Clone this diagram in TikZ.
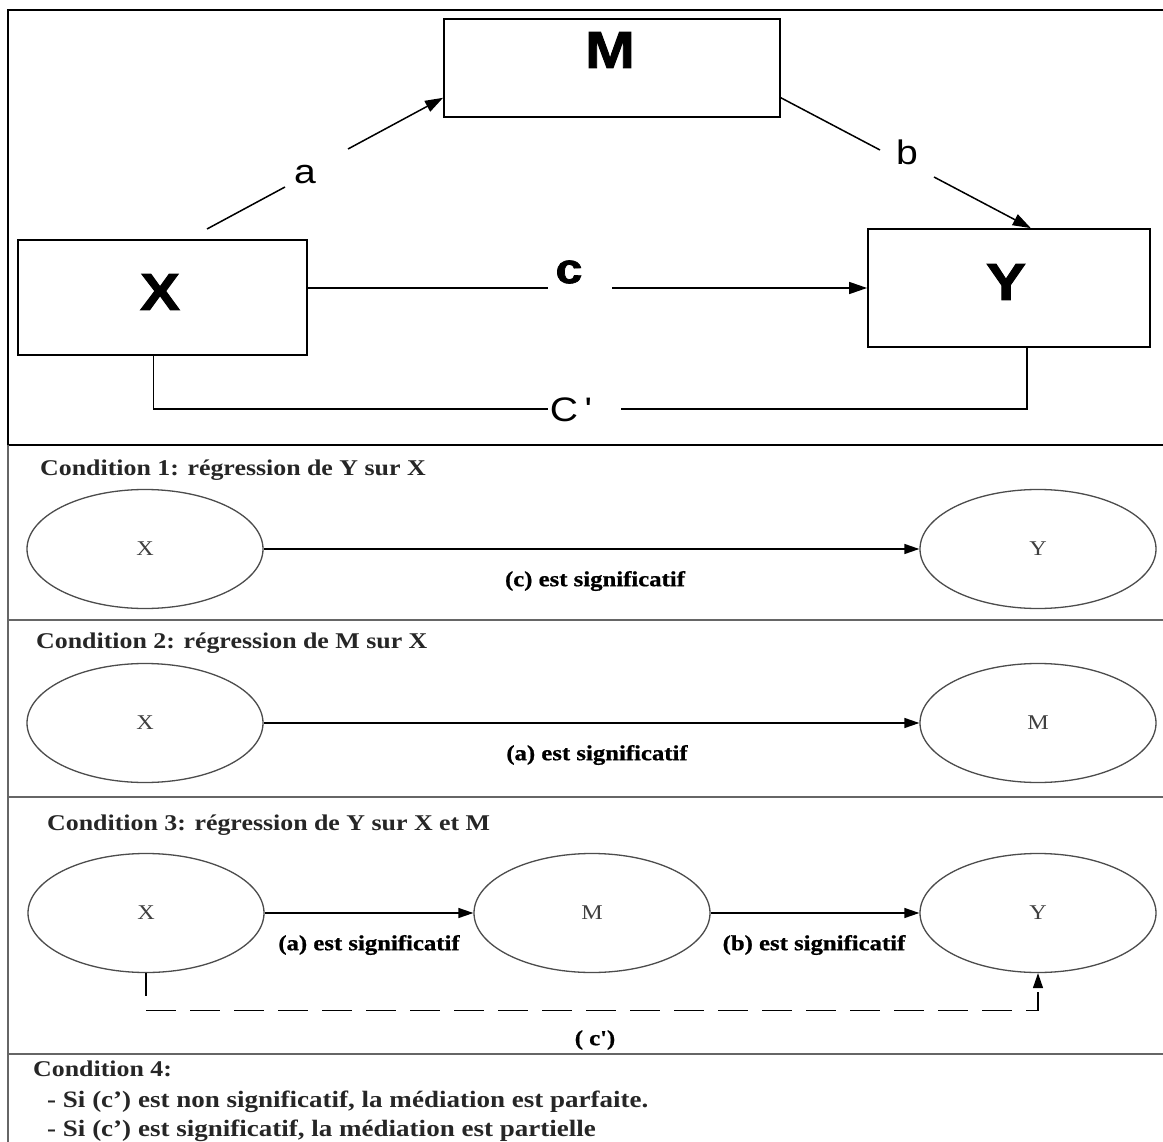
\documentclass[tikz,border=0pt]{standalone}
\usepackage{fontspec}
\usepackage{graphicx}
\setmainfont{Liberation Serif}
\newfontfamily\arialf{Liberation Sans}
\newfontfamily\arialheavy{Liberation Sans Bold}[FakeBold=1.6]
\newfontfamily\timesheavy{Liberation Serif Bold}[FakeBold=0.8]
\usetikzlibrary{arrows.meta,shapes.geometric,calc}
\newcommand{\hs}[1]{\scalebox{1.15}[1]{#1}}
\begin{document}
\begin{tikzpicture}[x=1pt,y=-1pt,
  bigbox/.style={draw,line width=1.8pt,inner sep=0pt},
  bigtxt/.style={inner sep=0pt,font=\arialheavy\fontsize{52}{60}\selectfont},
  lblA/.style={inner sep=0pt,font=\arialf\fontsize{34}{40}\selectfont},
  lblC/.style={inner sep=0pt,font=\arialheavy\fontsize{42}{48}\selectfont},
  conn/.style={line width=1.5pt},
  tarr/.style={conn,-{Triangle[length=18pt,width=12pt]}},
  ell/.style={ellipse,draw=black!70,line width=1.3pt,minimum width=236pt,minimum height=119pt,inner sep=0pt,text=black!75,font=\fontsize{21}{24}\selectfont},
  hdr/.style={anchor=west,inner sep=0pt,text=black!85,font=\bfseries\fontsize{22.5}{26}\selectfont},
  body/.style={anchor=west,inner sep=0pt,text=black!85,font=\bfseries\fontsize{23.5}{26}\selectfont},
  sig/.style={inner sep=0pt,font=\timesheavy\fontsize{21.5}{24}\selectfont},
  larr/.style={line width=1.3pt,-{Triangle[length=15pt,width=10pt]}},
  sep/.style={draw=black!60,line width=2pt}]
\useasboundingbox (0,0) rectangle (1163,1142);
\fill[white] (0,0) rectangle (1163,1142);

% frame
\draw[line width=2pt] (1163,10.5) -- (8,10.5) -- (8,445);
\draw[line width=2.5pt] (8,445) -- (1163,445);
\draw[sep] (8,445) -- (8,1142);
\draw[sep] (8,620) -- (1163,620);
\draw[sep] (8,797) -- (1163,797);
\draw[sep] (8,1054) -- (1163,1054);

% top panel
\node[bigbox,minimum width=289pt,minimum height=115pt] (X) at (162.5,297.5) {};
\node[bigbox,minimum width=336pt,minimum height=98pt] (M) at (612,68) {};
\node[bigbox,minimum width=282pt,minimum height=118pt] (Y) at (1009,288) {};
\node[bigtxt] (Xt) at (160,292) {\hs{X}};
\node[bigtxt] (Mt) at (610,50) {\hs{M}};
\node[bigtxt] (Yt) at (1006,282) {\hs{Y}};

\coordinate (a0) at (207,229);
\coordinate (a1) at (285,187);
\coordinate (a2) at (348,149);
\node[lblA] (la) at (305,175) {\hs{a}};
\draw[conn] (a0) -- (a1);
\draw[tarr] (a2) -- (M.190);

\coordinate (b1) at (880,150);
\coordinate (b2) at (934,177);
\node[lblA] (lb) at (907,152) {\hs{b}};
\draw[conn] (M.-10) -- (b1);
\draw[tarr] (b2) -- (Y.70);

\coordinate (c1) at (548,288);
\coordinate (c2) at (612,288);
\node[lblC] (lc) at (569,272) {\hs{c}};
\draw[conn] (X.east |- Y.west) -- (c1);
\draw[tarr] (c2) -- (Y.west);

\coordinate (cp1) at (548,409);
\coordinate (cp2) at (621,409);
\node[lblA] (lcp) at (571,410) {\hs{C\,'}};
\draw[conn] ([xshift=-9pt]X.south) |- (cp1);
\draw[conn] (cp2) -| ([xshift=18pt]Y.south);

% condition 1
\node[hdr] (h1) at (40,470) {\hs{Condition 1: régression de Y sur X}};
\node[ell] (x1) at (145,549) {\hs{X}};
\node[ell] (y1) at (1038,549) {\hs{Y}};
\draw[larr] (x1) -- (y1);
\node[sig] (s1) at (595,581) {\hs{(c) est significatif}};

% condition 2
\node[hdr] (h2) at (36,643) {\hs{Condition 2: régression de M sur X}};
\node[ell] (x2) at (145,723) {\hs{X}};
\node[ell] (m2) at (1038,723) {\hs{M}};
\draw[larr] (x2) -- (m2);
\node[sig] (s2) at (597,755) {\hs{(a) est significatif}};

% condition 3
\node[hdr] (h3) at (47,825) {\hs{Condition 3: régression de Y sur X et M}};
\node[ell] (x3) at (146,913) {\hs{X}};
\node[ell] (m3) at (592,913) {\hs{M}};
\node[ell] (y3) at (1038,913) {\hs{Y}};
\draw[larr] (x3) -- (m3);
\draw[larr] (m3) -- (y3);
\node[sig] (s3a) at (369,945) {\hs{(a) est significatif}};
\node[sig] (s3b) at (814,945) {\hs{(b) est significatif}};
\draw[larr,dash pattern=on 30pt off 14pt,dash phase=7pt] (x3.south) -- ++(0,37) -| (y3.south);
\node[sig] (s3c) at (595,1040) {\hs{( c')}};

% condition 4
\node[hdr] (h4) at (33,1069) {\hs{Condition 4:}};
\node[body] (l1) at (47,1102) {\hs{- Si (c') est non significatif, la médiation est parfaite.}};
\node[body] (l2) at (47,1131) {\hs{- Si (c') est significatif, la médiation est partielle}};
\end{tikzpicture}
\end{document}
